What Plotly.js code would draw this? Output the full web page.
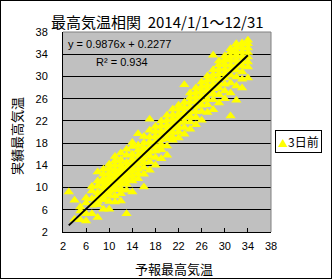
<!DOCTYPE html>
<html><head><meta charset="utf-8">
<script src="https://cdn.plot.ly/plotly-3.0.1.min.js"></script>
<style>
html,body{margin:0;padding:0;background:#fff}
#wrap{width:332px;height:279px;box-sizing:border-box;border:1px solid #000;overflow:hidden}
#chart{width:330px;height:277px}
</style></head>
<body><div id="wrap"><div id="chart"></div></div>
<script>
const chartTitle = '最高気温相関&nbsp;&nbsp;2014/1/1～12/31';
const xTitle = '予報最高気温';
const yTitle = '実績最高気温';
const seriesName = '3日前';
const tickValues = [2, 6, 10, 14, 18, 22, 26, 30, 34, 38];
const trendSlope = 0.9876;
const trendIntercept = 0.2277;
const rSquared = 0.934;

// forecast max temperature (x) and the observed max temperatures for that forecast (y)
const forecastValues = [3,4,5,6,7,8,9,10,11,12,13,14,15,16,17,18,19,20,21,22,23,24,25,26,27,28,29,30,31,32,33,34];
const actualByForecast = [
  [9.2],
  [7.7, 4.3],
  [4.2, 5.8, 6.5],
  [4.0, 5.3, 7.2, 8.1],
  [5.3, 6.8, 8.0, 9.4, 10.2],
  [4.6, 6.9, 8.4, 9.1, 10.3, 11.2, 12.8, 7.5],
  [6.1, 7.8, 8.8, 9.5, 10.1, 10.9, 11.6, 12.4, 13.3, 8.2],
  [6.1, 7.5, 8.6, 9.3, 9.9, 10.4, 11.1, 11.8, 12.6, 13.5, 14.2, 10.8],
  [7.4, 8.5, 9.6, 10.2, 10.8, 11.3, 11.9, 12.5, 13.2, 14.0, 14.8, 15.6],
  [7.6, 8.9, 9.8, 10.7, 11.5, 12.1, 12.8, 13.4, 14.1, 15.0, 16.2, 11.0],
  [5.3, 9.5, 10.6, 11.4, 12.3, 13.0, 13.7, 14.5, 15.8, 16.9, 12.7],
  [9.2, 11.2, 12.0, 12.9, 13.6, 14.3, 15.1, 16.0, 17.4, 18.1],
  [11.6, 12.5, 13.3, 14.2, 15.0, 15.8, 16.7, 17.6, 19.7],
  [10.1, 12.4, 13.6, 14.5, 15.3, 16.2, 17.1, 18.0, 19.2],
  [13.1, 14.6, 15.7, 16.5, 17.3, 18.2, 19.1, 20.3, 22.3],
  [14.0, 15.4, 16.6, 17.4, 18.3, 19.2, 20.1, 21.0],
  [15.2, 16.8, 17.7, 18.6, 19.4, 20.2, 21.1, 22.0],
  [15.8, 17.5, 18.8, 19.6, 20.4, 21.2, 22.1, 23.0],
  [18.5, 19.0, 19.9, 20.7, 21.5, 22.3, 23.1, 24.1],
  [18.9, 20.0, 20.9, 21.7, 22.5, 23.3, 24.2, 24.8],
  [19.6, 20.8, 21.9, 22.7, 23.5, 24.4, 25.3, 28.5],
  [20.5, 21.8, 22.8, 23.6, 24.5, 25.4, 26.2, 27.0],
  [21.3, 22.6, 23.7, 24.6, 25.5, 26.3, 27.1, 27.9],
  [22.1, 23.7, 24.8, 25.7, 26.5, 27.4, 28.2, 29.0],
  [23.5, 24.9, 25.9, 26.8, 27.6, 28.4, 29.3, 30.1],
  [24.0, 25.8, 26.9, 27.8, 28.6, 29.5, 30.3, 31.2, 33.8],
  [25.2, 26.7, 27.9, 28.8, 29.6, 30.5, 31.3, 32.1, 32.8],
  [26.0, 27.4, 28.6, 29.7, 30.5, 31.3, 32.2, 33.0, 33.7],
  [22.9, 27.0, 28.8, 30.2, 31.2, 32.0, 32.9, 33.6, 34.4, 35.0],
  [25.7, 28.3, 29.9, 31.1, 32.0, 32.9, 33.8, 34.5, 35.3, 35.9],
  [27.9, 29.5, 30.8, 31.9, 32.8, 33.6, 34.4, 35.2, 36.0],
  [29.7, 31.7, 32.6, 33.5, 34.3, 35.1, 35.9, 36.5]
];

const xs = [], ys = [];
forecastValues.forEach((f, i) => actualByForecast[i].forEach(a => { xs.push(f); ys.push(a); }));
const xMin = Math.min(...xs), xMax = Math.max(...xs);
const trendX = [xMin, xMax];
const trendY = trendX.map(v => trendSlope * v + trendIntercept);

// plot area in page pixels
const L = 63, R = 271, T = 32, B = 232;
const px = x => (x - L) / (R - L);
const py = y => (B - y) / (B - T);

const jp = '"Noto Sans CJK JP", sans-serif';
const num = '"Liberation Sans", Arial, sans-serif';

const traces = [
  {x: xs, y: ys, type: 'scatter', mode: 'markers', name: seriesName,
   marker: {symbol: 'triangle-up', size: 9, color: '#ffff00', line: {width: 0}},
   showlegend: false, hoverinfo: 'skip'},
  {x: trendX, y: trendY, type: 'scatter', mode: 'lines',
   line: {color: '#000', width: 2}, showlegend: false, hoverinfo: 'skip'}
];

const axisCommon = {
  range: [2, 38], tickvals: tickValues, ticktext: tickValues.map(String),
  ticks: 'inside', ticklen: 4, tickcolor: '#000', tickwidth: 1,
  showline: true, linecolor: '#000', linewidth: 1, zeroline: false,
  tickfont: {family: num, size: 11, color: '#000'}, fixedrange: true
};

const layout = {
  width: 330, height: 277,
  margin: {l: L - 1, r: 330 - (R - 1), t: T - 1, b: 277 - (B - 1), pad: 0},
  paper_bgcolor: '#ffffff', plot_bgcolor: '#c0c0c0',
  showlegend: false,
  xaxis: Object.assign({}, axisCommon, {showgrid: false, ticklabelstandoff: 4}),
  yaxis: Object.assign({}, axisCommon, {showgrid: true, gridcolor: '#000', gridwidth: 1, ticklabelstandoff: 12}),
  shapes: [
    {type: 'line', xref: 'paper', yref: 'paper', x0: 0, x1: 1, y0: 1, y1: 1, line: {color: '#808080', width: 1}, layer: 'above'},
    {type: 'line', xref: 'paper', yref: 'paper', x0: 1, x1: 1, y0: 0, y1: 1, line: {color: '#808080', width: 1}, layer: 'above'}
  ],
  annotations: [
    {text: chartTitle, xref: 'paper', yref: 'paper', x: px(157.5), y: py(21), xanchor: 'center', yanchor: 'middle',
     showarrow: false, font: {family: jp, size: 15, color: '#000'}},
    {text: xTitle, xref: 'paper', yref: 'paper', x: px(174), y: py(268), xanchor: 'center', yanchor: 'middle',
     showarrow: false, font: {family: jp, size: 13, color: '#000'}},
    {text: yTitle, xref: 'paper', yref: 'paper', x: px(16), y: py(136), xanchor: 'center', yanchor: 'middle',
     textangle: -90, showarrow: false, font: {family: jp, size: 13, color: '#000'}},
    {text: 'y = ' + trendSlope + 'x + ' + trendIntercept, xref: 'paper', yref: 'paper', x: px(66), y: py(44),
     xanchor: 'left', yanchor: 'middle', showarrow: false, font: {family: num, size: 11, color: '#000'}},
    {text: 'R² = ' + rSquared, xref: 'paper', yref: 'paper', x: px(94), y: py(62),
     xanchor: 'left', yanchor: 'middle', showarrow: false, font: {family: num, size: 11, color: '#000'}},
    {text: '<span style="color:#ffff00;font-size:10px">▲</span>' + seriesName, xref: 'paper', yref: 'paper',
     x: px(298.5), y: py(141), xanchor: 'center', yanchor: 'middle', showarrow: false,
     bgcolor: '#ffffff', bordercolor: '#000', borderwidth: 1, borderpad: 2,
     font: {family: jp, size: 12, color: '#000'}}
  ]
};

Plotly.newPlot('chart', traces, layout, {staticPlot: true, displayModeBar: false});
</script>
</body></html>
